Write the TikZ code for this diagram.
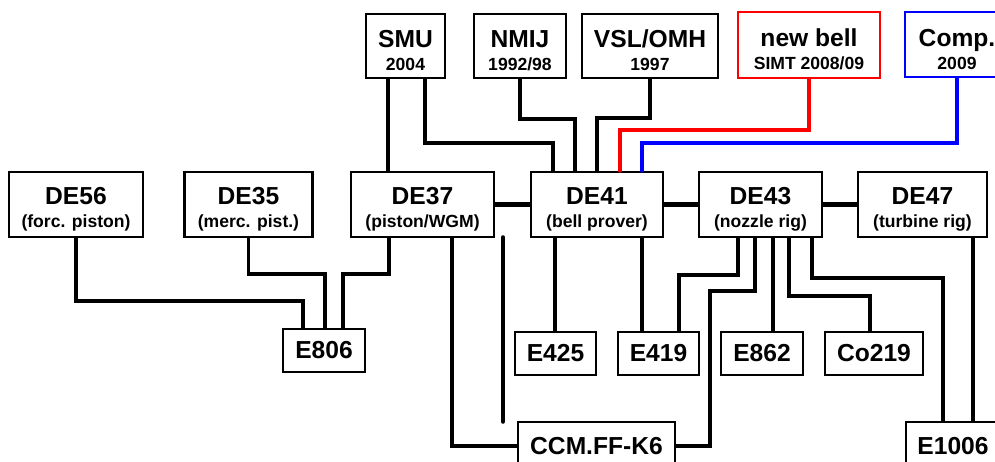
\documentclass[tikz,border=0pt]{standalone}
\usepackage{fontspec}
\setmainfont{Liberation Sans}
\definecolor{cRed}{RGB}{255,0,0}
\definecolor{cBlue}{RGB}{0,0,255}
\tikzset{
	unit/.style={rectangle, draw=black, line width=1.3pt, inner sep=0pt, align=center, font=\bfseries\fontsize{14}{13}\selectfont},
	link/.style={line width=2pt, line cap=round},
	chain/.style={line width=3pt},
}
\newcommand{\unitlabel}[2]{\rule{0pt}{15pt}#1\\{\fontsize{10}{12}\selectfont #2}}

\begin{document}
\begin{tikzpicture}[x=0.02cm, y=-0.02cm]
\useasboundingbox (0,0) rectangle (995,462);
\clip (0,0) rectangle (995,462);
% institutes
\foreach \nm/\lab/\yr/\cx/\w in {smu/SMU/2004/405.5/79, nmij/NMIJ/{1992/98}/520/92, vsl/{VSL/OMH}/1997/650/136} {
	\node[unit, minimum width=\w*0.02cm, minimum height=1.28cm] (\nm) at (\cx,46) {\unitlabel{\lab}{\yr}};
}
\node[unit, draw=cRed, minimum width=2.84cm, minimum height=1.32cm] (newbell) at (809,45) {\unitlabel{new bell}{SIMT 2008/09}};
\node[unit, draw=cBlue, minimum width=2.08cm, minimum height=1.3cm] (comp) at (957,44.5) {\unitlabel{Comp.}{2009}};
% standards
\foreach \nm/\lab/\sub/\cx/\w in {de56/DE56/(forc. piston)/76/134, de35/DE35/(merc. pist.)/248.5/128, de37/DE37/{(piston/WGM)}/422.5/143, de41/DE41/(bell prover)/597/132, de43/DE43/(nozzle rig)/760.5/123, de47/DE47/(turbine rig)/922.5/129} {
	\node[unit, minimum width=\w*0.02cm, minimum height=1.3cm] (\nm) at (\cx,204.5) {\unitlabel{\lab}{\sub}};
}
% comparisons
\foreach \nm/\lab/\cx/\cy/\w in {e806/E806/324/350.5/82, e425/E425/555.5/353.5/81, e419/E419/658.5/353.5/81, e862/E862/762/353.5/82, co219/Co219/874/353.5/98} {
	\node[unit, minimum width=\w*0.02cm, minimum height=0.86cm] (\nm) at (\cx,\cy) {\lab};
}
\node[unit, minimum width=3.14cm, minimum height=0.96cm] (ccm) at (596.5,446) {CCM.FF-K6};
\node[unit, minimum width=1.88cm, minimum height=0.96cm] (e1006) at (953,446) {E1006};
\coordinate (stubtop) at (503,237);
\coordinate (stubend) at (503,422);

\draw[chain] (de37.east) -- (de41.west);
\draw[chain] (de41.east) -- (de43.west);
\draw[chain] (de43.east) -- (de47.west);

\draw[link] (388,0 |- smu.south) -- (388,0 |- de37.north);
\draw[link] (425,0 |- smu.south) |- (553,143) -- (553,0 |- de41.north);
\draw[link] (nmij.south) |- (575,119) -- (575,0 |- de41.north);
\draw[link] (vsl.south) |- (de41.north |- 0,118) -- (de41.north);
\draw[link, cRed] (newbell.south) |- (620,130) -- (620,0 |- de41.north);
\draw[link, cBlue] (comp.south) |- (642,143) -- (642,0 |- de41.north);

\draw[link] (de56.south) |- (303,301) -- (303,0 |- e806.north);
\draw[link] (de35.south) |- (325,274) -- (325,0 |- e806.north);
\draw[link] (389,0 |- de37.south) |- (343,274) -- (343,0 |- e806.north);
\draw[link] (452,0 |- de37.south) |- (ccm.west);
\draw[link] (stubtop) -- (stubend);

\draw[link] (555,0 |- de41.south) -- (555,0 |- e425.north);
\draw[link] (642,0 |- de41.south) -- (642,0 |- e419.north);
\draw[link] (738,0 |- de43.south) |- (679,275) -- (679,0 |- e419.north);
\draw[link] (755,0 |- de43.south) |- (710,291) |- (ccm.east);
\draw[link] (773,0 |- de43.south) -- (773,0 |- e862.north);
\draw[link] (789,0 |- de43.south) |- (870,296) -- (870,0 |- co219.north);
\draw[link] (812,0 |- de43.south) |- (943,278) -- (943,0 |- e1006.north);
\draw[link] (973,0 |- de47.south) -- (973,0 |- e1006.north);
\end{tikzpicture}
\end{document}
